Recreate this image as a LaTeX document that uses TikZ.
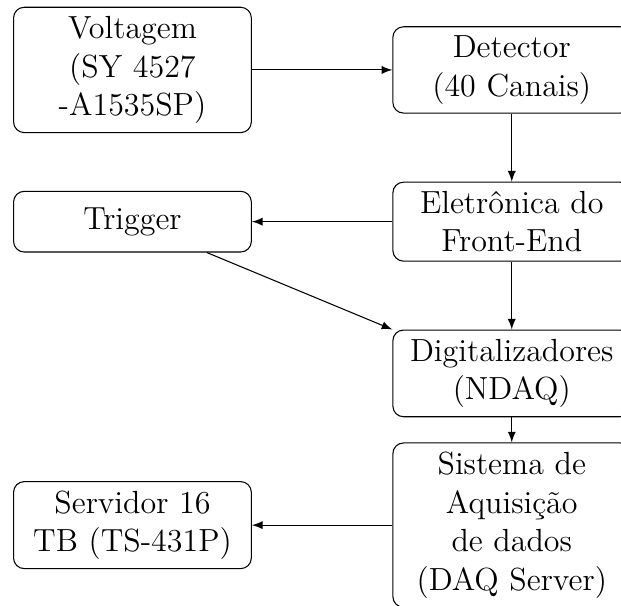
\documentclass[tikz,border=0pt]{standalone}
\usetikzlibrary{arrows}
\begin{document}
\begin{tikzpicture}[caixa/.style={draw, rounded corners, align=center, text width=2.9cm, minimum height=0.8cm, font=\fontsize{12}{14.5}\selectfont}, seta/.style={-latex}]
    \useasboundingbox (-1.746,0.922) rectangle (6.44,-7.066);

    % Coluna da esquerda
    \node[caixa] (volt) at (0,0) {Voltagem\\(SY 4527\\-A1535SP)};
    \node[caixa] (trig) at (0,-2) {Trigger};
    \node[caixa] (serv) at (0,-6) {Servidor 16\\TB (TS-431P)};

    % Coluna da direita
    \node[caixa] (det) at (5,0) {Detector\\(40 Canais)};
    \node[caixa] (ele) at (5,-2) {Eletrônica do\\Front-End};
    \node[caixa] (dig) at (5,-4) {Digitalizadores\\(NDAQ)};
    \node[caixa] (daq) at (5,-6) {Sistema de\\Aquisição\\de dados\\(DAQ Server)};

    \draw[seta] (volt) -- (det);
    \draw[seta] (det) -- (ele);
    \draw[seta] (ele) -- (trig);
    \draw[seta] (ele) -- (dig);
    \draw[seta] (trig) -- (dig.north west);
    \draw[seta] (dig) -- (daq);
    \draw[seta] (daq) -- (serv);
\end{tikzpicture}
\end{document}
